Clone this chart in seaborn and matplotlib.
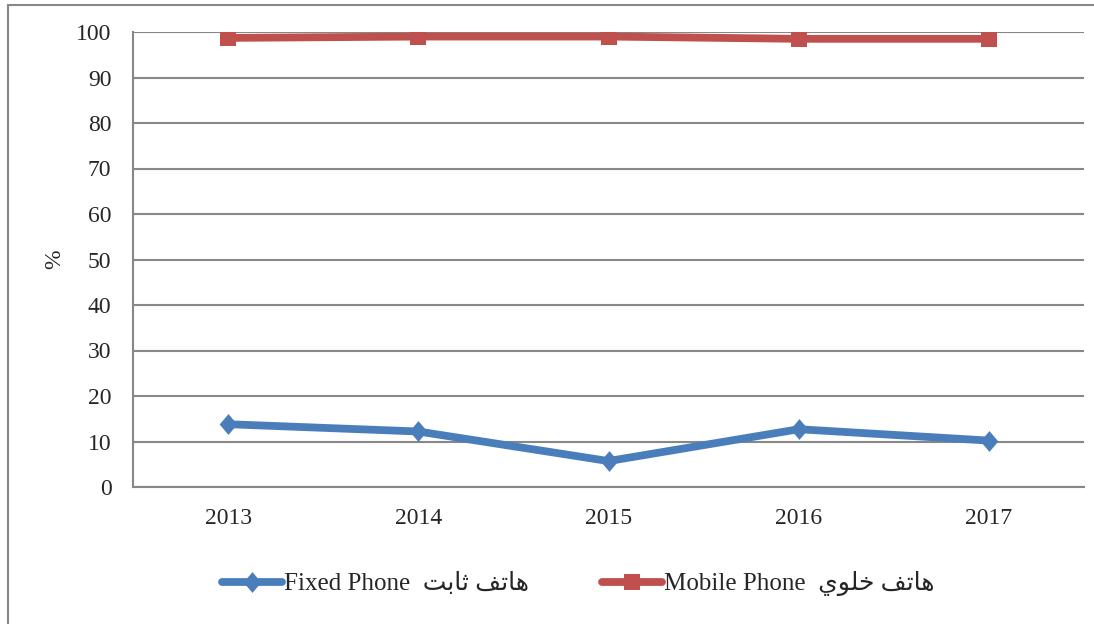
import numpy as np
import pandas as pd
import seaborn as sns
import matplotlib.pyplot as plt
from matplotlib.lines import Line2D
from matplotlib.path import Path

# data (%)
roky = [2013, 2014, 2015, 2016, 2017]
pevna_linka = [13.8, 12.2, 5.7, 12.7, 10.2]
mobil = [98.7, 99.0, 99.0, 98.5, 98.5]
y_ticky = list(range(0, 101, 10))

# arabic text is pre-shaped (presentation forms) and reversed, matplotlib has no bidi
ar_pevna = "\uFE96\uFE91\uFE8E\uFE9B \uFED2\uFE97\uFE8E\uFEEB"
ar_mobil = "\uFEF1\uFEEE\uFEE0\uFEA7 \uFED2\uFE97\uFE8E\uFEEB"
popisky = ["Fixed Phone  " + ar_pevna, "Mobile Phone  " + ar_mobil]

sns.set_style("white")
plt.rcParams['font.family'] = ['Liberation Serif', 'DejaVu Sans']
plt.rcParams['font.size'] = 17

modra = '#4A7EBB'
cervena = '#C0504D'
seda = '#878787'

# markers like in excel
kosoctverec = Path([(0, 1), (0.85, 0), (0, -1), (-0.85, 0), (0, 1)],
                   [Path.MOVETO, Path.LINETO, Path.LINETO, Path.LINETO, Path.CLOSEPOLY])
ctverec = Path([(-1, -1), (1, -1), (1, 1), (-1, 1), (-1, -1)],
               [Path.MOVETO, Path.LINETO, Path.LINETO, Path.LINETO, Path.CLOSEPOLY])

df = pd.DataFrame({'rok': roky, 'pevna': pevna_linka, 'mobil': mobil})

fig = plt.figure(figsize=(10.94, 6.24), dpi=100)
ax = fig.add_axes([133/1094, 1 - 487/624, (1084 - 133)/1094, (487 - 32)/624])

sns.lineplot(data=df, x='rok', y='pevna', ax=ax, color=modra, linewidth=5.6,
             marker=kosoctverec, markersize=15, markeredgewidth=0,
             solid_capstyle='round', label=popisky[0])
sns.lineplot(data=df, x='rok', y='mobil', ax=ax, color=cervena, linewidth=5.6,
             marker=ctverec, markersize=11, markeredgewidth=0,
             solid_capstyle='round', label=popisky[1])

ax.set_xlim(2012.5, 2017.5)
ax.set_ylim(0, 100)
ax.set_xticks(roky)
ax.set_xticklabels([str(r) for r in roky])
ax.set_yticks(y_ticky)
ax.yaxis.grid(True, color=seda, linewidth=1.5)
ax.set_axisbelow(True)
ax.tick_params(axis='y', length=0, pad=15.5)
ax.tick_params(axis='x', length=0, pad=15)

for s in ['top', 'right']:
    ax.spines[s].set_visible(False)
for s in ['left', 'bottom']:
    ax.spines[s].set_color(seda)
    ax.spines[s].set_linewidth(1.5)

ax.set_xlabel('')
ax.set_ylabel('%', rotation=90, va='center', ha='center')
ax.yaxis.set_label_coords((55 - 133)/951, 0.5)

# legend below the chart
ax.legend_.remove()
h, l = ax.get_legend_handles_labels()
fig.legend(h, l, loc='center', bbox_to_anchor=(578/1094, 1 - 584/624),
           ncol=2, frameon=False, handlelength=2.4, handletextpad=0.1,
           columnspacing=2.9, fontsize=18)

# outer chart frame
fig.add_artist(Line2D([7.5/1094, 7.5/1094], [0, 1 - 4.5/624], transform=fig.transFigure,
                      color=seda, linewidth=1.5))
fig.add_artist(Line2D([7.5/1094, 1], [1 - 4.5/624, 1 - 4.5/624], transform=fig.transFigure,
                      color=seda, linewidth=1.5))

fig.savefig('out.png', dpi=100)
